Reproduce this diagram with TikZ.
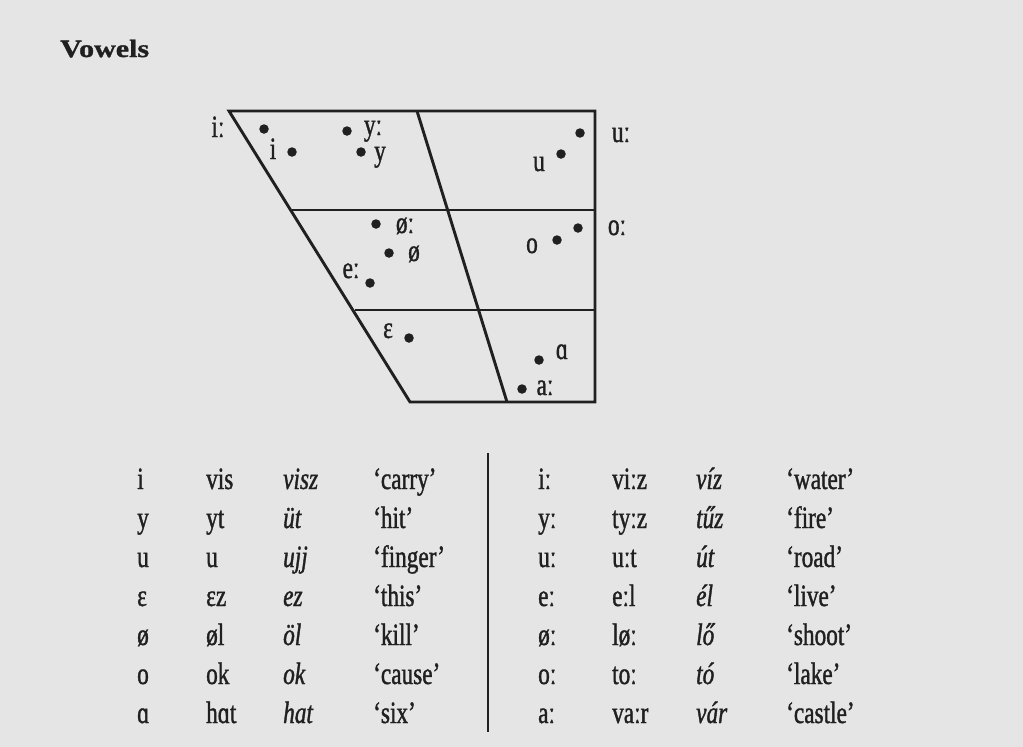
\documentclass[tikz,border=0pt]{standalone}
\usepackage{fontspec}
\setmainfont{Liberation Serif}[FakeStretch=0.75, RawFeature={embolden=1.2}]
\usetikzlibrary{positioning}
\definecolor{page}{RGB}{229,229,229}
\definecolor{ink}{RGB}{32,32,32}

\begin{document}
\begin{tikzpicture}[x=1pt, y=-1pt,
  txt/.style={font=\fontsize{31}{37}\selectfont, text=ink, inner sep=0pt,
    anchor=base},
  cell/.style={txt, anchor=base west},
  dot/.style={circle, fill=ink, inner sep=0pt, minimum size=9.5pt},
  chart/.style={draw=ink, line width=2.9pt, line join=miter},
]
  \fill[page] (0,0) rectangle (1023,747);
  \useasboundingbox (0,0) rectangle (1023,747);

  \node[txt, anchor=base west,
    font=\fontsize{25}{30}\selectfont\bfseries\addfontfeature{FakeStretch=1.2}]
    (title) at (60,57) {Vowels};

  % vowel chart
  \coordinate (tl) at (229,111);
  \coordinate (tm) at (417,111);
  \coordinate (tr) at (595,111);
  \coordinate (bl) at (410,402);
  \coordinate (bm) at (507,402);
  \coordinate (br) at (595,402);
  \coordinate (ml) at (292,210);
  \coordinate (mr) at (595,210);
  \coordinate (ll) at (355,310);
  \coordinate (lr) at (595,310);
  \draw[chart] (tl) -- (tr) -- (br) -- (bl) -- cycle;
  \draw[chart] (tm) -- (bm);
  \draw[chart] (ml) -- (mr);
  \draw[chart] (ll) -- (lr);

  \node[dot] (iL) at (264,129) {};
  \node[txt] (iL-t) at (218,137) {iː};
  \node[dot] (iS) at (292,152) {};
  \node[txt] (iS-t) at (273,159) {i};
  \node[dot] (yL) at (347,131) {};
  \node[txt] (yL-t) at (373,135) {yː};
  \node[dot] (yS) at (361,152) {};
  \node[txt] (yS-t) at (380,161) {y};
  \node[dot] (uL) at (580,133) {};
  \node[txt] (uL-t) at (621,142) {uː};
  \node[dot] (uS) at (561,154) {};
  \node[txt] (uS-t) at (539,171) {u};
  \node[dot] (oeL) at (376,224) {};
  \node[txt] (oeL-t) at (405,233) {øː};
  \node[dot] (oeS) at (389,253) {};
  \node[txt] (oeS-t) at (414,261) {ø};
  \node[dot] (eL) at (370,283) {};
  \node[txt] (eL-t) at (351,278) {eː};
  \node[dot] (oL) at (578,228) {};
  \node[txt] (oL-t) at (617,235) {oː};
  \node[dot] (oS) at (557,240) {};
  \node[txt] (oS-t) at (532,253) {o};
  \node[dot] (eS) at (409,338) {};
  \node[txt] (eS-t) at (388,338) {ɛ};
  \node[dot] (aS) at (539,360) {};
  \node[txt] (aS-t) at (562,359) {ɑ};
  \node[dot] (aL) at (522,389) {};
  \node[txt] (aL-t) at (545,395) {aː};

  % word table
  \coordinate (rtop) at (488,453);
  \coordinate (rbot) at (488,732);
  \draw[ink, line width=2pt] (rtop) -- (rbot);
  \foreach \a/\b/\c/\d/\e/\f/\g/\h [count=\r] in {
      i/vis/visz/‘carry’/iː/viːz/víz/‘water’,
      y/yt/üt/‘hit’/yː/tyːz/tűz/‘fire’,
      u/u/ujj/‘finger’/uː/uːt/út/‘road’,
      ɛ/ɛz/ez/‘this’/eː/eːl/él/‘live’,
      ø/øl/öl/‘kill’/øː/løː/lő/‘shoot’,
      o/ok/ok/‘cause’/oː/toː/tó/‘lake’,
      ɑ/hɑt/hat/‘six’/aː/vaːr/vár/‘castle’} {
    \node[cell] (s\r-1) at (137,{450+39*\r}) {\a};
    \node[cell] (s\r-2) at (206,{450+39*\r}) {\b};
    \node[cell] (s\r-3) at (283,{450+39*\r}) {\textit{\c}};
    \node[cell] (s\r-4) at (373,{450+39*\r}) {\d};
    \node[cell] (l\r-1) at (538,{450+39*\r}) {\e};
    \node[cell] (l\r-2) at (612,{450+39*\r}) {\f};
    \node[cell] (l\r-3) at (696,{450+39*\r}) {\textit{\g}};
    \node[cell] (l\r-4) at (786,{450+39*\r}) {\h};
  }
\end{tikzpicture}
\end{document}
